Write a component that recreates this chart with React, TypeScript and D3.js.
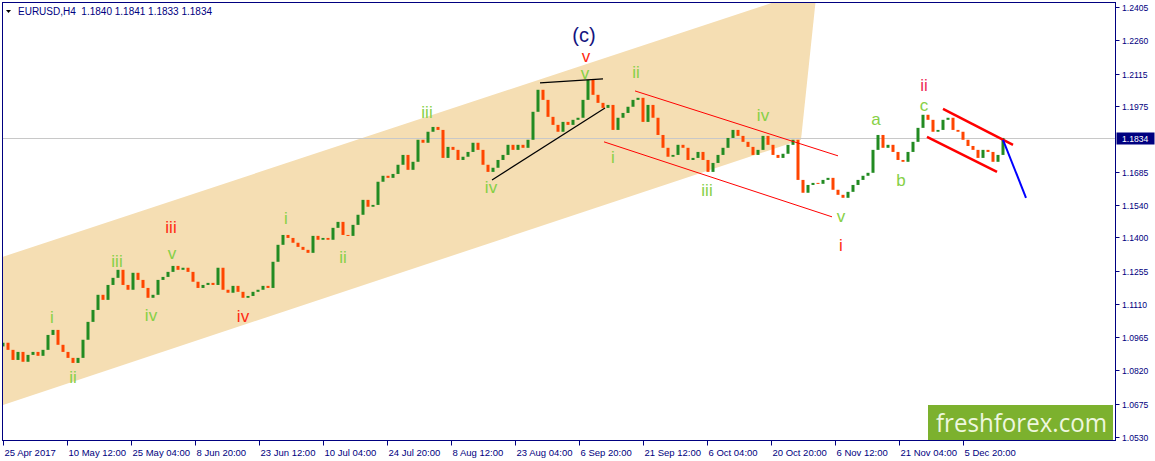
import * as d3 from 'd3'

// EURUSD H4 closes, one every 5 bars
const closes = [
  1.0941, 1.0910, 1.0866, 1.0901, 1.0858, 1.0888, 1.0901, 1.0884, 1.0910, 1.0975,
  1.0997, 1.0932, 1.0901, 1.0875, 1.0853, 1.0875, 1.0954, 1.1032, 1.1084, 1.1150,
  1.1128, 1.1193, 1.1224, 1.1259, 1.1193, 1.1172, 1.1246, 1.1215, 1.1180, 1.1137,
  1.1150, 1.1215, 1.1228, 1.1250, 1.1276, 1.1259, 1.1268, 1.1250, 1.1207, 1.1180,
  1.1193, 1.1202, 1.1193, 1.1268, 1.1172, 1.1159, 1.1189, 1.1163, 1.1137, 1.1145,
  1.1163, 1.1172, 1.1189, 1.1180, 1.1294, 1.1368, 1.1411, 1.1398, 1.1377, 1.1359,
  1.1346, 1.1333, 1.1407, 1.1390, 1.1398, 1.1390, 1.1442, 1.1468, 1.1411, 1.1407,
  1.1455, 1.1499, 1.1564, 1.1534, 1.1542, 1.1643, 1.1669, 1.1660, 1.1677, 1.1717,
  1.1760, 1.1695, 1.1730, 1.1826, 1.1813, 1.1861, 1.1882, 1.1869, 1.1747, 1.1795,
  1.1782, 1.1738, 1.1752, 1.1773, 1.1813, 1.1782, 1.1717, 1.1686, 1.1704, 1.1738,
  1.1760, 1.1804, 1.1782, 1.1804, 1.1791, 1.1826, 1.1948, 1.2044, 1.2000, 1.1926,
  1.1891, 1.1861, 1.1904, 1.1891, 1.1913, 1.1922, 1.2000, 1.2087, 1.2022, 1.1987,
  1.1965, 1.1978, 1.1869, 1.1922, 1.1943, 1.1970, 1.2000, 1.2009, 1.1904, 1.1978,
  1.1922, 1.1847, 1.1791, 1.1752, 1.1760, 1.1804, 1.1791, 1.1738, 1.1747, 1.1773,
  1.1738, 1.1686, 1.1725, 1.1760, 1.1791, 1.1834, 1.1869, 1.1843, 1.1817, 1.1795,
  1.1760, 1.1782, 1.1843, 1.1804, 1.1760, 1.1747, 1.1765, 1.1804, 1.1826, 1.1651,
  1.1595, 1.1629, 1.1638, 1.1634, 1.1651, 1.1660, 1.1608, 1.1586, 1.1573, 1.1599,
  1.1629, 1.1651, 1.1669, 1.1682, 1.1782, 1.1847, 1.1791, 1.1804, 1.1773, 1.1738,
  1.1730, 1.1773, 1.1817, 1.1878, 1.1935, 1.1913, 1.1861, 1.1869, 1.1913, 1.1922,
  1.1869, 1.1861, 1.1826, 1.1799, 1.1782, 1.1747, 1.1782, 1.1773, 1.1730, 1.1760,
  1.1834,
]
const firstOpen = 1.0925
const barStep = 5

const priceTicks = [1.2405, 1.226, 1.2115, 1.1975, 1.1685, 1.154, 1.14, 1.1255, 1.111, 1.0965, 1.082, 1.0675, 1.053]
const lastPrice = 1.1834
const timeLabels = [
  '25 Apr 2017', '10 May 12:00', '25 May 04:00', '8 Jun 20:00', '23 Jun 12:00', '10 Jul 04:00',
  '24 Jul 20:00', '8 Aug 12:00', '23 Aug 04:00', '6 Sep 20:00', '21 Sep 12:00', '6 Oct 04:00',
  '20 Oct 20:00', '6 Nov 12:00', '21 Nov 04:00', '5 Dec 20:00',
]
const barsPerLabel = 64

// annotations in [bar, price]
const channel: [number, number][] = [[0, 1.1316], [814, 1.2488], [798, 1.1826], [0, 1.067]]
const blackLines: [number, number][][] = [
  [[489, 1.1651], [602, 1.1965]],
  [[537, 1.2074], [600, 1.2092]],
]
const redThin: [number, number][][] = [
  [[632, 1.2039], [835, 1.1756]],
  [[601, 1.1817], [829, 1.149]],
]
const redThick: [number, number][][] = [
  [[940, 1.1961], [1010, 1.1804]],
  [[924, 1.1839], [994, 1.1686]],
]
const blueLine: [number, number][] = [[1000, 1.1826], [1023, 1.1573]]

const greenLabels: [string, number, number][] = [
  ['i', 49, 1.105], ['ii', 70, 1.0788], ['iii', 114, 1.1294], ['iv', 148, 1.1058], ['v', 169, 1.1329],
  ['i', 283, 1.1481], ['ii', 340, 1.1311], ['iii', 424, 1.1943], ['iv', 488, 1.1616], ['v', 582, 1.2114],
  ['ii', 633, 1.2118], ['i', 610, 1.1747], ['iii', 704, 1.1603], ['iv', 760, 1.193], ['v', 838, 1.149],
  ['a', 873, 1.1913], ['b', 898, 1.1647], ['c', 921, 1.1976],
]
const redLabels: [string, number, number][] = [
  ['iii', 168, 1.1442], ['iv', 240, 1.1054], ['v', 583, 1.2190], ['i', 838, 1.1363],
]
const pinkLabels: [string, number, number][] = [['ii', 921, 1.2062]]
const waveLabel: [string, number, number] = ['(c)', 581, 1.2283]

const W = 1155
const H = 461
const plot = { left: 2.5, top: 2.5, right: 1115.5, bottom: 440.5 }

export default function App() {
  const x = d3.scaleLinear().domain([0, 1112]).range([3, 1115])
  const y = d3.scaleLinear().domain([1.053, 1.2405]).range([437, 7])
  const line = d3.line<[number, number]>().x(d => x(d[0])).y(d => y(d[1]))
  const axisColor = '#000080'
  const font = '"Liberation Sans", Arial, sans-serif'

  const candles = closes.map((c, i) => {
    const o = i === 0 ? firstOpen : closes[i - 1]
    const top = y(Math.max(o, c))
    const bottom = y(Math.min(o, c))
    const color = c > o ? '#228b22' : c < o ? '#ff4500' : '#000'
    return (
      <rect key={i} x={x(i * barStep) - 1.5} y={top} width={3} height={Math.max(1, bottom - top)} fill={color} />
    )
  })

  const label = (l: [string, number, number], color: string, size: number, key: string) => (
    <text key={key} x={x(l[1])} y={y(l[2])} fill={color} fontSize={size}
      textAnchor="middle" dominantBaseline="central" fontFamily={font}>{l[0]}</text>
  )

  return (
    <svg width={W} height={H} style={{ position: 'absolute', left: 0, top: 0, background: '#fff' }}>
      <defs>
        <clipPath id="plot-clip">
          <rect x={plot.left} y={plot.top} width={plot.right - plot.left} height={plot.bottom - plot.top} />
        </clipPath>
      </defs>
      <g clipPath="url(#plot-clip)">
        <path d={line(channel) + 'Z'} fill="#f5deb3" />
        <line x1={plot.left} x2={plot.right} y1={Math.round(y(lastPrice)) + 0.5} y2={Math.round(y(lastPrice)) + 0.5}
          stroke="#c8c8c8" />
        {candles}
        {blackLines.map((l, i) => <path key={'b' + i} d={line(l)!} stroke="#000" strokeWidth={1.2} fill="none" />)}
        {redThin.map((l, i) => <path key={'r' + i} d={line(l)!} stroke="#ff0000" strokeWidth={1} fill="none" />)}
        {redThick.map((l, i) => <path key={'R' + i} d={line(l)!} stroke="#ff0000" strokeWidth={2.5} fill="none" />)}
        <path d={line(blueLine)!} stroke="#0000ff" strokeWidth={2} fill="none" />
        {greenLabels.map((l, i) => label(l, '#86d046', 17, 'g' + i))}
        {redLabels.map((l, i) => label(l, '#ff2a12', 17, 'rl' + i))}
        {pinkLabels.map((l, i) => label(l, '#ee2a55', 17, 'p' + i))}
        {label(waveLabel, '#141480', 20, 'wave')}
        <rect x={928} y={405} width={185} height={35.5} fill="#7cb12e" />
        <text x={936} y={432} fill="#eef7df" fontSize={26} fontFamily='"Open Sans", sans-serif'
          textLength={171} lengthAdjust="spacingAndGlyphs">freshforex.com</text>
      </g>

      <rect x={plot.left} y={plot.top} width={plot.right - plot.left} height={plot.bottom - plot.top}
        fill="none" stroke={axisColor} />

      {/* header */}
      <path d="M6,10 L11,10 L8.5,13 Z" fill="#000" />
      <text x={18} y={14.5} fontSize={10} fill={axisColor} fontFamily={font}>
        EURUSD,H4{'\u00a0\u00a0'}1.1840 1.1841 1.1833 1.1834
      </text>

      {/* price axis */}
      {priceTicks.map(p => (
        <g key={p} transform={`translate(0,${Math.round(y(p)) + 0.5})`}>
          <line x1={plot.right} x2={plot.right + 4} stroke={axisColor} />
          <text x={1122} y={3} fontSize={8.6} fill={axisColor} fontFamily={font}>{p.toFixed(4)}</text>
        </g>
      ))}
      <g transform={`translate(0,${Math.round(y(lastPrice)) + 0.5})`}>
        <rect x={plot.right + 1} y={-6} width={38} height={12} fill="#000080" />
        <text x={1122} y={3} fontSize={8.6} fill="#fff" fontFamily={font}>{lastPrice.toFixed(4)}</text>
      </g>

      {/* time axis */}
      {timeLabels.map((t, i) => {
        const tx = Math.round(x(i * barsPerLabel)) + 0.5
        return (
          <g key={t}>
            <line x1={tx} x2={tx} y1={plot.bottom} y2={plot.bottom + 5} stroke={axisColor} />
            <text x={tx + 1} y={456} fontSize={9.5} fill={axisColor} fontFamily={font}>{t}</text>
          </g>
        )
      })}
    </svg>
  )
}
